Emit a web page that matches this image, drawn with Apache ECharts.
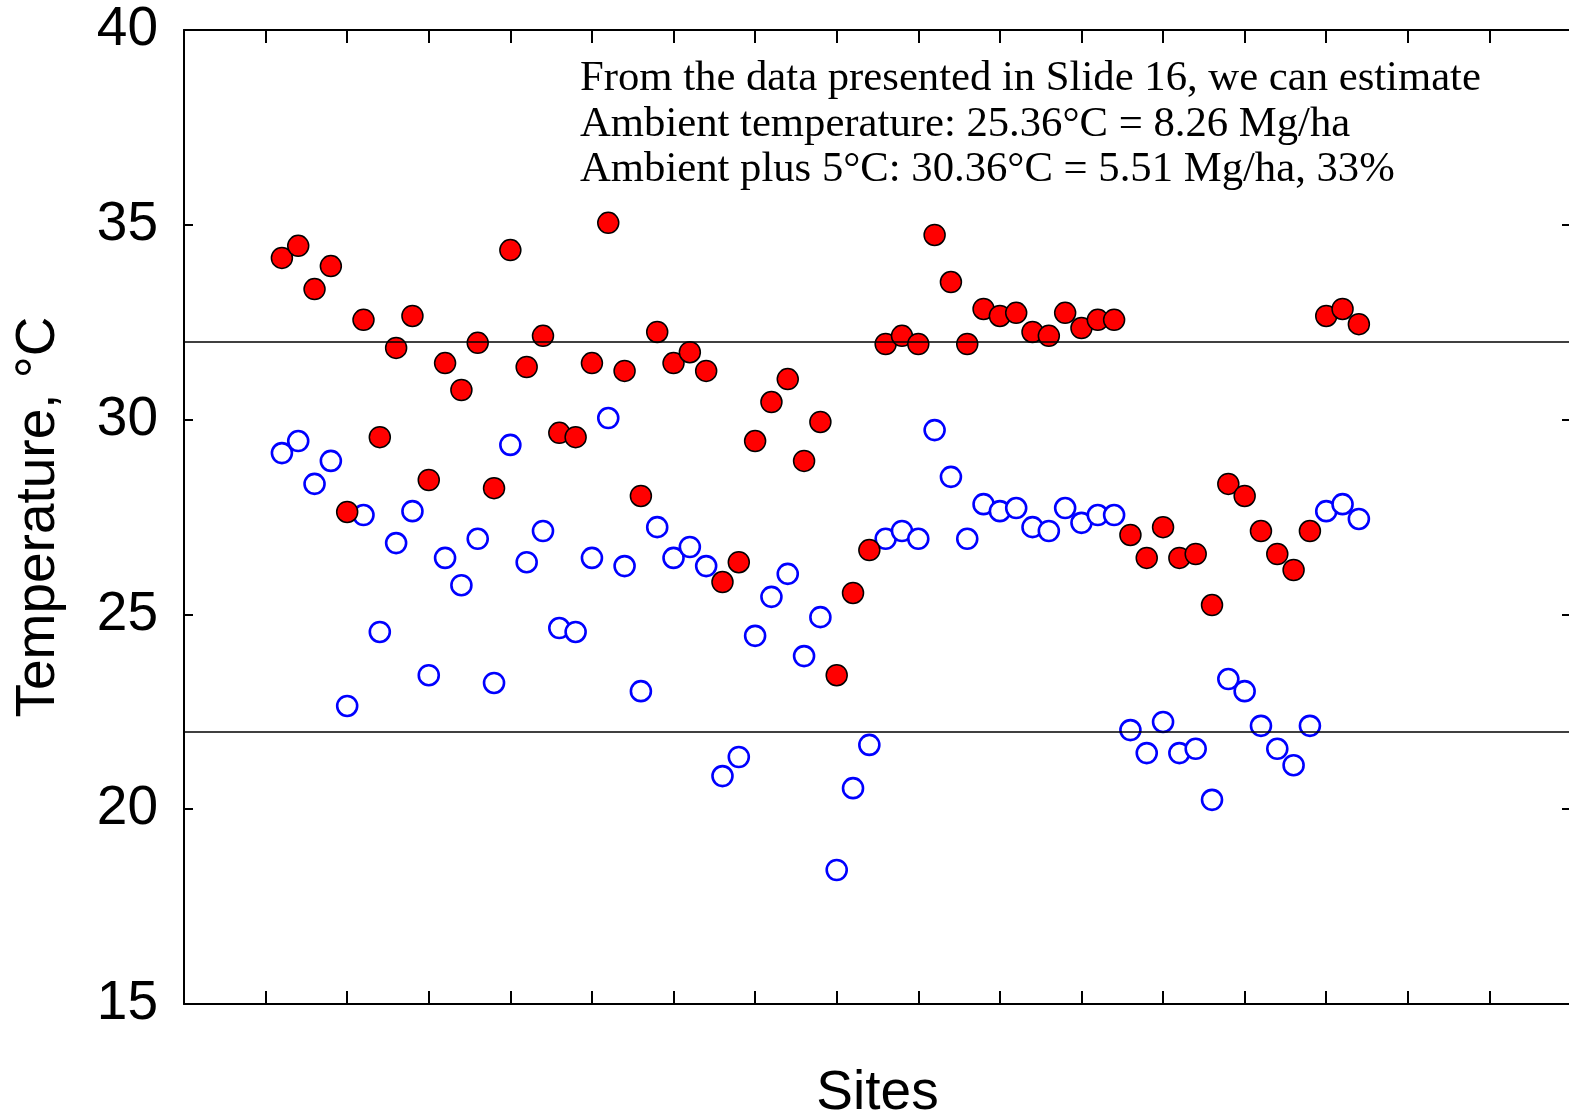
<!DOCTYPE html>
<html>
<head>
<meta charset="utf-8">
<script src="https://cdn.jsdelivr.net/npm/echarts@6/dist/echarts.min.js"></script>
<style>
html,body{margin:0;padding:0;background:#fff;}
#chart{width:1569px;height:1114px;}
</style>
</head>
<body>
<div id="chart"></div>
<script>
const sites = [6,7,8,9,10,11,12,13,14,15,16,17,18,19,20,21,22,23,24,25,26,27,28,29,30,31,32,33,34,35,36,37,38,39,40,41,42,43,44,45,46,47,48,49,50,51,52,53,54,55,56,57,58,59,60,61,62,63,64,65,66,67,68,69,70,71,72];
const plus5Temps = [34.15,34.46,33.35,33.94,27.63,32.56,29.55,31.84,32.66,28.45,
  31.45,30.76,31.97,28.24,34.35,31.35,32.15,29.66,29.55,31.45,
  35.05,31.25,28.04,32.25,31.45,31.73,31.25,25.83,26.34,29.45,
  30.45,31.04,28.94,29.94,23.44,25.55,26.65,31.94,32.15,31.94,
  34.74,33.53,31.94,32.84,32.66,32.74,32.25,32.15,32.74,32.35,
  32.56,32.56,27.04,26.45,27.24,26.45,26.55,25.24,28.35,28.04,
  27.14,26.55,26.14,27.14,32.66,32.84,32.45];
const ambientTemps = [29.14,29.45,28.35,28.94,22.65,27.55,24.55,26.83,27.65,23.44,
  26.45,25.75,26.94,23.24,29.35,26.34,27.14,24.65,24.55,26.45,
  30.04,26.24,23.03,27.24,26.45,26.73,26.24,20.85,21.34,24.45,
  25.45,26.04,23.93,24.93,18.44,20.54,21.65,26.94,27.14,26.94,
  29.73,28.53,26.94,27.83,27.65,27.73,27.24,27.14,27.73,27.35,
  27.55,27.55,22.03,21.44,22.24,21.44,21.55,20.24,23.34,23.03,
  22.14,21.55,21.13,22.14,27.65,27.83,27.45];
const refLines = [32, 22];
const yTicks = [15, 20, 25, 30, 35, 40];
const noteLines = [
  'From the data presented in Slide 16, we can estimate',
  'Ambient temperature: 25.36°C = 8.26 Mg/ha',
  'Ambient plus 5°C: 30.36°C = 5.51 Mg/ha, 33%'
];

const chart = echarts.init(document.getElementById('chart'), null, {renderer:'canvas'});
const sansFont = 'Liberation Sans, Arial, sans-serif';
const axisLine = {show:true, onZero:false, lineStyle:{color:'#000', width:2}};

const option = {
  backgroundColor:'#fff',
  animation:false,
  grid:{left:184, top:30, right:-2, bottom:110, containLabel:false, outerBoundsMode:'none'},
  xAxis:[{
    type:'value', min:0, max:85, interval:5, position:'bottom',
    name:'Sites', nameLocation:'middle', nameGap:62,
    nameTextStyle:{fontFamily:sansFont, fontSize:55, color:'#000'},
    axisLine:axisLine,
    axisTick:{show:true, inside:true, length:13, lineStyle:{color:'#000', width:2}},
    axisLabel:{show:false}, splitLine:{show:false}
  },{
    type:'value', min:0, max:85, interval:5, position:'top',
    axisLine:axisLine,
    axisTick:{show:true, inside:true, length:13, lineStyle:{color:'#000', width:2}},
    axisLabel:{show:false}, splitLine:{show:false}
  }],
  yAxis:[{
    type:'value', min:yTicks[0], max:yTicks[yTicks.length-1], interval:5, position:'left',
    name:'Temperature, °C', nameLocation:'middle', nameGap:118, nameRotate:90,
    nameTextStyle:{fontFamily:sansFont, fontSize:55, color:'#000'},
    axisLine:axisLine,
    axisTick:{show:true, inside:true, length:9, lineStyle:{color:'#000', width:2}},
    axisLabel:{show:true, margin:26, fontFamily:sansFont, fontSize:55, color:'#000'},
    splitLine:{show:false}
  },{
    type:'value', min:yTicks[0], max:yTicks[yTicks.length-1], interval:5, position:'right',
    axisLine:axisLine,
    axisTick:{show:true, inside:true, length:9, lineStyle:{color:'#000', width:2}},
    axisLabel:{show:false}, splitLine:{show:false}
  }],
  series:[{
    type:'scatter', name:'Ambient',
    data: sites.map((s,i)=>[s, ambientTemps[i]]),
    symbol:'circle', symbolSize:20,
    itemStyle:{color:'#fff', borderColor:'#0000ff', borderWidth:2.6, opacity:1},
    markLine:{
      silent:true, symbol:['none','none'], label:{show:false},
      lineStyle:{color:'#000', width:1.5, type:'solid'},
      data: refLines.map(v=>({yAxis:v}))
    },
    z:2
  },{
    type:'scatter', name:'Ambient + 5',
    data: sites.map((s,i)=>[s, plus5Temps[i]]),
    symbol:'circle', symbolSize:21,
    itemStyle:{color:'#ff0000', borderColor:'#000', borderWidth:1.5, opacity:1},
    z:3
  }],
  graphic: noteLines.map((t,i)=>({
    type:'text', x:580, y:79 + i*45.5,
    style:{text:t, font:'42.7px "Liberation Serif", "Times New Roman", serif', fill:'#000', verticalAlign:'middle', align:'left'}
  }))
};
chart.setOption(option);
</script>
</body>
</html>
